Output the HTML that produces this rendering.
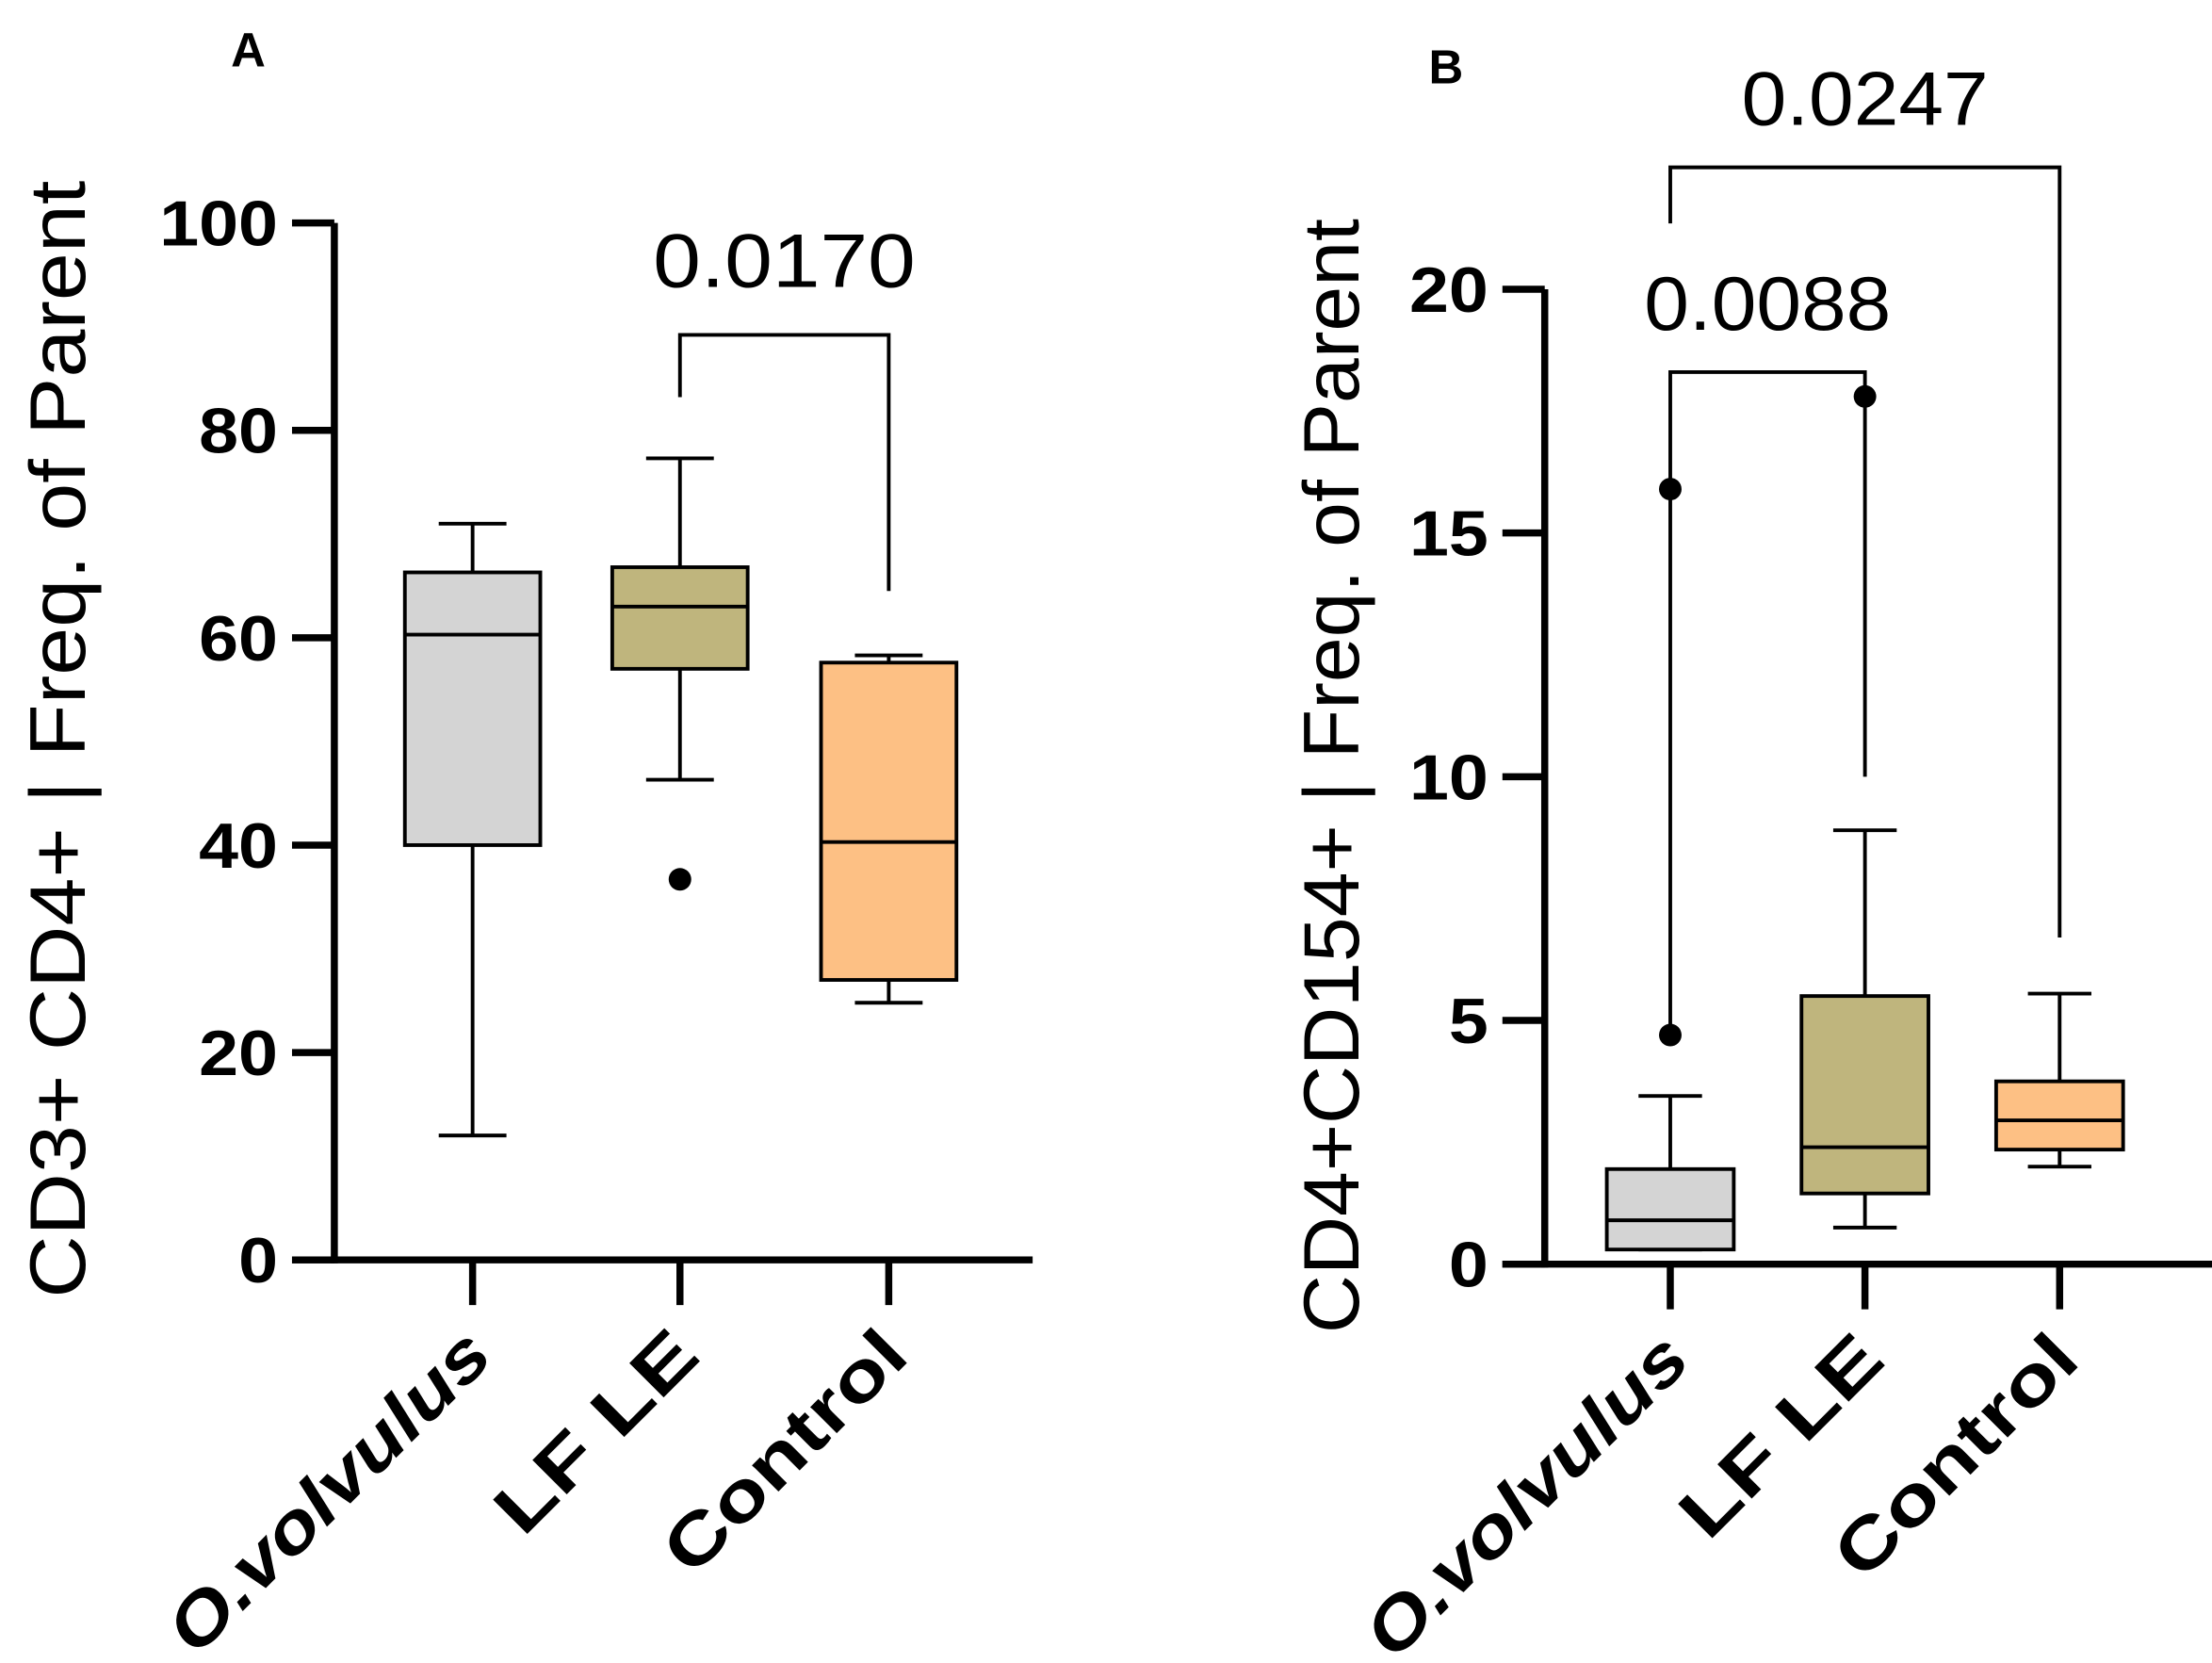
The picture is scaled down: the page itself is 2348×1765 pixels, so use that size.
<!DOCTYPE html>
<html><head><meta charset="utf-8"><style>
html,body{margin:0;padding:0;background:#fff}
svg{display:block}
text{font-family:"Liberation Sans",Arial,sans-serif;fill:#000}
</style></head><body>
<svg id="fig" width="2348" height="1765" viewBox="0 0 1568 1178.7" preserveAspectRatio="none"></svg>
<script>
const categories = ["O.volvulus", "LF LE", "Control"];
const labelLengths = [300, 180, 220];
// Panel A values
const boxA_low = [12, 46.3, 24.8];
const boxA_q1 = [40, 57, 27];
const boxA_med = [60.3, 63, 40.3];
const boxA_q3 = [66.3, 66.8, 57.6];
const boxA_high = [71, 77.3, 58.3];
const outliersA = [[], [36.7], []];
const ticksA = [0, 20, 40, 60, 80, 100];
// Panel B values
const boxB_low = [0.3, 0.75, 2.0];
const boxB_q1 = [0.3, 1.45, 2.35];
const boxB_med = [0.9, 2.4, 2.95];
const boxB_q3 = [1.95, 5.5, 3.75];
const boxB_high = [3.45, 8.9, 5.55];
const outliersB = [[4.7, 15.9], [17.8], []];
const ticksB = [0, 5, 10, 15, 20];
const colors = ["#d4d4d4", "#bfb57d", "#fdc084"];

const NS = "http://www.w3.org/2000/svg";
const svg = document.getElementById("fig");
function mk(tag, attrs, parent, text) {
  const e = document.createElementNS(NS, tag);
  for (const k in attrs) e.setAttribute(k, attrs[k]);
  if (text !== undefined) e.textContent = text;
  (parent || svg).appendChild(e);
  return e;
}

function panel(cfg) {
  const g = mk("g", {});
  
  
  const y = v => cfg.y0 - v / cfg.max * (cfg.y0 - cfg.yTop);
  const x = i => cfg.cx[i];
  const ya = mk("line", {x1: cfg.ax, y1: cfg.yTop, x2: cfg.ax, y2: cfg.y0 + 2.5, stroke: "#000", "stroke-width": 5}, g);
  
  
  const xa = mk("line", {x1: cfg.ax - 30, y1: cfg.y0, x2: cfg.xEnd, y2: cfg.y0, stroke: "#000", "stroke-width": 5}, g);
  
  
  cfg.ticks.forEach(t => {
    mk("line", {x1: cfg.ax - 30, y1: y(t), x2: cfg.ax, y2: y(t), stroke: "#000", "stroke-width": 5}, g);
    const s = String(t);
    const tl = mk("text", {x: cfg.ax - 40, y: y(t) + 16, "text-anchor": "end", "font-size": 45, "font-weight": "bold",
      textLength: s.length * 28, lengthAdjust: "spacingAndGlyphs"}, g, s);
    
    
  });
  categories.forEach((c, i) => {
    mk("line", {x1: x(i), y1: cfg.y0, x2: x(i), y2: cfg.y0 + 32, stroke: "#000", "stroke-width": 5}, g);
    const lx = x(i) + 16, ly = cfg.y0 + 70;
    const t = mk("text", {x: lx, y: ly, "text-anchor": "end", "font-size": 50, "font-weight": "bold",
      textLength: labelLengths[i], lengthAdjust: "spacingAndGlyphs",
      transform: `rotate(-45 ${lx} ${ly})`, "font-style": i === 0 ? "italic" : "normal"}, g, c);
    
    
    const hw = cfg.bw / 2, cw = cfg.bw / 4;
    const wl = mk("line", {x1: x(i), y1: y(cfg.low[i]), x2: x(i), y2: y(cfg.high[i]), stroke: "#000", "stroke-width": 2.6}, g);
    
    
    mk("line", {x1: x(i) - cw, y1: y(cfg.high[i]), x2: x(i) + cw, y2: y(cfg.high[i]), stroke: "#000", "stroke-width": 2.6}, g);
    mk("line", {x1: x(i) - cw, y1: y(cfg.low[i]), x2: x(i) + cw, y2: y(cfg.low[i]), stroke: "#000", "stroke-width": 2.6}, g);
    const b = mk("rect", {x: x(i) - hw, y: y(cfg.q3[i]), width: cfg.bw, height: y(cfg.q1[i]) - y(cfg.q3[i]), fill: colors[i], stroke: "#000", "stroke-width": 2.6}, g);
    
    
    mk("line", {x1: x(i) - hw, y1: y(cfg.med[i]), x2: x(i) + hw, y2: y(cfg.med[i]), stroke: "#000", "stroke-width": 2.6}, g);
    cfg.out[i].forEach(v => {
      const d = mk("circle", {cx: x(i), cy: y(v), r: 8, fill: "#000"}, g);
      
      
    });
  });
  cfg.brackets.forEach(br => {
    const p = mk("path", {d: `M${x(br.a)},${y(br.la)} V${y(br.top)} H${x(br.b)} V${y(br.lb)}`, fill: "none", stroke: "#000", "stroke-width": 2.6}, g);
    
    
    const t = mk("text", {x: br.tx, y: y(br.top) - br.dy, "text-anchor": "middle", "font-size": 54,
      textLength: br.len, lengthAdjust: "spacingAndGlyphs"}, g, br.label);
    
    
  });
  const yt = mk("text", {x: cfg.titleX, y: cfg.titleY, "text-anchor": "middle", "font-size": 56,
    textLength: cfg.titleLen, lengthAdjust: "spacingAndGlyphs",
    transform: `rotate(-90 ${cfg.titleX} ${cfg.titleY})`}, g, cfg.title);
  
  
  const pl = mk("text", {x: cfg.letterX, y: cfg.letterY, "text-anchor": "middle", "font-size": 34, "font-weight": "bold"}, g, cfg.letter);
  
  
}

panel({name: "panel-a", ax: 237, y0: 893, yTop: 158, max: 100, xEnd: 732, cx: [335, 482, 630], bw: 96,
  ticks: ticksA, low: boxA_low, q1: boxA_q1, med: boxA_med, q3: boxA_q3, high: boxA_high, out: outliersA,
  brackets: [{a: 1, b: 2, top: 89.2, la: 83.2, lb: 64.5, label: "0.0170", tx: 556, dy: 34, len: 186}],
  title: "CD3+ CD4+ | Freq. of Parent", titleX: 60, titleY: 524, titleLen: 792, letter: "A", letterX: 176, letterY: 47});

panel({name: "panel-b", ax: 1095, y0: 896, yTop: 205, max: 20, xEnd: 1568, cx: [1184, 1322, 1460], bw: 90,
  ticks: ticksB, low: boxB_low, q1: boxB_q1, med: boxB_med, q3: boxB_q3, high: boxB_high, out: outliersB,
  brackets: [{a: 0, b: 1, top: 18.3, la: 4.7, lb: 10.0, label: "0.0088", tx: 1253, dy: 30, len: 175},
             {a: 0, b: 2, top: 22.5, la: 21.35, lb: 6.7, label: "0.0247", tx: 1322, dy: 30, len: 175}],
  title: "CD4+CD154+ | Freq. of Parent", titleX: 963, titleY: 550, titleLen: 790, letter: "B", letterX: 1025, letterY: 59});
</script>
</body></html>
